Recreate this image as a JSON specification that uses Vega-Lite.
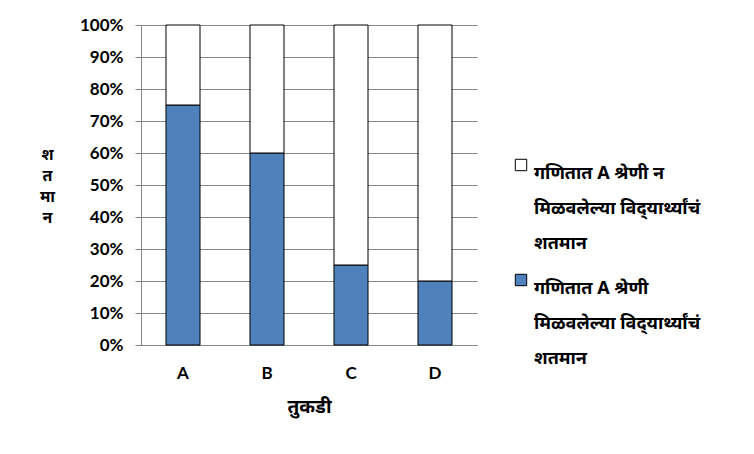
{
  "$schema": "https://vega.github.io/schema/vega-lite/v6.json",
  "autosize": {"type": "none"},
  "width": 336,
  "height": 320,
  "padding": {"left": 141, "top": 25, "right": 277, "bottom": 109},
  "background": "white",
  "data": {
    "values": [
      {"tukdi": "A", "gat": "गणितात A श्रेणी मिळवलेल्या विद्‌यार्थ्यांचं शतमान", "ord": 1, "value": 75},
      {"tukdi": "A", "gat": "गणितात A श्रेणी न मिळवलेल्या विद्‌यार्थ्यांचं शतमान", "ord": 2, "value": 25},
      {"tukdi": "B", "gat": "गणितात A श्रेणी मिळवलेल्या विद्‌यार्थ्यांचं शतमान", "ord": 1, "value": 60},
      {"tukdi": "B", "gat": "गणितात A श्रेणी न मिळवलेल्या विद्‌यार्थ्यांचं शतमान", "ord": 2, "value": 40},
      {"tukdi": "C", "gat": "गणितात A श्रेणी मिळवलेल्या विद्‌यार्थ्यांचं शतमान", "ord": 1, "value": 25},
      {"tukdi": "C", "gat": "गणितात A श्रेणी न मिळवलेल्या विद्‌यार्थ्यांचं शतमान", "ord": 2, "value": 75},
      {"tukdi": "D", "gat": "गणितात A श्रेणी मिळवलेल्या विद्‌यार्थ्यांचं शतमान", "ord": 1, "value": 20},
      {"tukdi": "D", "gat": "गणितात A श्रेणी न मिळवलेल्या विद्‌यार्थ्यांचं शतमान", "ord": 2, "value": 80}
    ]
  },
  "mark": {"type": "bar", "stroke": "black", "strokeWidth": 1},
  "encoding": {
    "x": {
      "field": "tukdi",
      "type": "nominal",
      "title": "तुकडी",
      "scale": {"paddingInner": 0.595, "paddingOuter": 0.2975},
      "axis": {
        "labelAngle": 0,
        "labelPadding": 20,
        "titlePadding": 16,
        "titleFontSize": 19,
        "ticks": false,
        "grid": false
      }
    },
    "y": {
      "field": "value",
      "type": "quantitative",
      "stack": "normalize",
      "title": ["श", "त", "मा", "न"],
      "axis": {
        "format": ".0%",
        "values": [0, 0.1, 0.2, 0.3, 0.4, 0.5, 0.6, 0.7, 0.8, 0.9, 1],
        "titleAngle": 0,
        "titleX": -94,
        "titleY": 121,
        "titleAlign": "center",
        "titleBaseline": "top",
        "titleLineHeight": 21,
        "titleFontSize": 16,
        "labelPadding": 12,
        "tickSize": 6
      }
    },
    "order": {"field": "ord", "type": "quantitative"},
    "color": {
      "field": "gat",
      "type": "nominal",
      "scale": {
        "domain": ["गणितात A श्रेणी न मिळवलेल्या विद्‌यार्थ्यांचं शतमान", "गणितात A श्रेणी मिळवलेल्या विद्‌यार्थ्यांचं शतमान"],
        "range": ["white", "#4F81BD"]
      },
      "legend": {
        "title": null,
        "orient": "none",
        "legendX": 371,
        "legendY": 131,
        "symbolType": "square",
        "symbolSize": 130,
        "symbolStrokeColor": "black",
        "symbolStrokeWidth": 1,
        "labelExpr": "indexof(datum.label, ' न ') > 0 ? ['गणितात  A श्रेणी  न', 'मिळवलेल्या  विद्‌यार्थ्यांचं', 'शतमान'] : ['गणितात  A श्रेणी', 'मिळवलेल्या  विद्‌यार्थ्यांचं', 'शतमान']",
        "labelLimit": 0,
        "labelFontSize": 18,
        "labelFontWeight": "bold",
        "labelBaseline": "top",
        "labelOffset": 4,
        "rowPadding": 18
      }
    }
  },
  "config": {
    "font": "Noto Sans Devanagari, Lato, sans-serif",
    "view": {"stroke": null},
    "axis": {
      "labelFont": "Lato, Noto Sans Devanagari, sans-serif",
      "labelFontSize": 17,
      "labelFontWeight": "bold",
      "labelColor": "black",
      "titleFont": "Noto Sans Devanagari, Lato, sans-serif",
      "titleFontSize": 16,
      "titleFontWeight": "bold",
      "titleColor": "black",
      "domainColor": "#868686",
      "tickColor": "#868686",
      "gridColor": "#868686",
      "gridOpacity": 1
    },
    "legend": {
      "labelColor": "black",
      "labelFont": "Noto Sans Devanagari, Lato, sans-serif"
    },
    "style": {
      "guide-label": {"lineHeight": 35}
    }
  }
}
